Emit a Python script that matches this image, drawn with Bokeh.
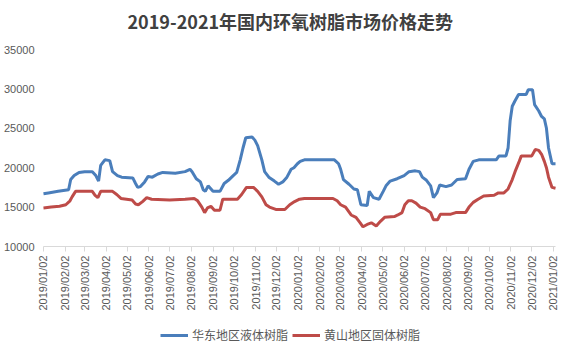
import pandas as pd
from math import pi
from bokeh.plotting import figure
from bokeh.models import (Range1d, FixedTicker, DatetimeTickFormatter, Legend, LegendItem,
                          ColumnDataSource, Title)
from bokeh.embed import file_html
from bokeh.resources import INLINE

title_text = "2019-2021年国内环氧树脂市场价格走势"
series_names = ["华东地区液体树脂", "黄山地区固体树脂"]

blue_dates = [
    "2019-01-02", "2019-01-09", "2019-01-23", "2019-02-07", "2019-02-10", "2019-02-15",
    "2019-02-22", "2019-03-02", "2019-03-13", "2019-03-18", "2019-03-22", "2019-03-25",
    "2019-03-31", "2019-04-07", "2019-04-11", "2019-04-18", "2019-04-24", "2019-05-10",
    "2019-05-14", "2019-05-17", "2019-05-21", "2019-05-27", "2019-06-01", "2019-06-07",
    "2019-06-15", "2019-06-22", "2019-07-10", "2019-07-24", "2019-07-31", "2019-08-03",
    "2019-08-09", "2019-08-15", "2019-08-19", "2019-08-22", "2019-08-26", "2019-09-02",
    "2019-09-12", "2019-09-18", "2019-09-24", "2019-10-01", "2019-10-06", "2019-10-11",
    "2019-10-15", "2019-10-19", "2019-10-28", "2019-11-01", "2019-11-05", "2019-11-11",
    "2019-11-15", "2019-11-21", "2019-11-29", "2019-12-05", "2019-12-11", "2019-12-17",
    "2019-12-23", "2019-12-27", "2020-01-01", "2020-01-05", "2020-01-11", "2020-02-23",
    "2020-02-29", "2020-03-03", "2020-03-07", "2020-03-15", "2020-03-22", "2020-03-27",
    "2020-04-01", "2020-04-10", "2020-04-13", "2020-04-19", "2020-04-27", "2020-05-03",
    "2020-05-07", "2020-05-13", "2020-05-23", "2020-06-02", "2020-06-09", "2020-06-18",
    "2020-06-24", "2020-06-28", "2020-07-04", "2020-07-10", "2020-07-14", "2020-07-19",
    "2020-07-23", "2020-08-01", "2020-08-09", "2020-08-17", "2020-08-29", "2020-09-03",
    "2020-09-09", "2020-09-17", "2020-10-12", "2020-10-16", "2020-10-26", "2020-10-29",
    "2020-11-01", "2020-11-04", "2020-11-08", "2020-11-13", "2020-11-24", "2020-11-27",
    "2020-12-03", "2020-12-06", "2020-12-12", "2020-12-16", "2020-12-20", "2020-12-23",
    "2020-12-26", "2020-12-31", "2021-01-05",
]
blue_values = [
    16700, 16800, 17000, 17200, 18500, 19000,
    19400, 19500, 19500, 19000, 18300, 20300,
    21000, 20900, 19500, 19000, 18800, 18700,
    18000, 17500, 17600, 18200, 18900, 18800,
    19200, 19400, 19300, 19500, 19800, 19500,
    18600, 18200, 17200, 17000, 17700, 17000,
    17000, 18000, 18400, 19000, 19400, 21000,
    22500, 23800, 23900, 23500, 22800, 21000,
    19500, 18800, 18300, 17900, 18200, 18800,
    19800, 20000, 20500, 20800, 21000, 21000,
    20500, 19800, 18500, 17900, 17300, 17200,
    15300, 15200, 17000, 16200, 16000, 17000,
    17700, 18300, 18600, 19000, 19500, 19600,
    19500, 18800, 18400, 17700, 16200, 16800,
    17800, 17600, 17800, 18500, 18600, 19800,
    20800, 21000, 21000, 21500, 21500, 22500,
    26000, 27800, 28500, 29300, 29300, 29900,
    29900, 28000, 27200, 26500, 26200, 25000,
    22500, 20500, 20500,
]

red_dates = [
    "2019-01-02", "2019-01-13", "2019-01-25", "2019-02-03", "2019-02-09", "2019-02-12",
    "2019-02-17", "2019-03-13", "2019-03-17", "2019-03-21", "2019-03-25", "2019-04-11",
    "2019-04-17", "2019-04-23", "2019-05-09", "2019-05-14", "2019-05-18", "2019-05-24",
    "2019-05-30", "2019-06-06", "2019-07-02", "2019-07-24", "2019-08-06", "2019-08-11",
    "2019-08-17", "2019-08-21", "2019-08-25", "2019-08-30", "2019-09-04", "2019-09-12",
    "2019-09-16", "2019-10-07", "2019-10-13", "2019-10-20", "2019-10-30", "2019-11-05",
    "2019-11-11", "2019-11-17", "2019-11-22", "2019-12-01", "2019-12-14", "2019-12-21",
    "2019-12-28", "2020-01-04", "2020-01-11", "2020-02-21", "2020-02-27", "2020-03-03",
    "2020-03-10", "2020-03-18", "2020-03-25", "2020-03-31", "2020-04-04", "2020-04-10",
    "2020-04-16", "2020-04-23", "2020-04-29", "2020-05-05", "2020-05-19", "2020-05-24",
    "2020-05-30", "2020-06-03", "2020-06-08", "2020-06-13", "2020-06-19", "2020-06-25",
    "2020-07-02", "2020-07-10", "2020-07-14", "2020-07-20", "2020-07-24", "2020-08-08",
    "2020-08-15", "2020-08-29", "2020-09-03", "2020-09-09", "2020-09-16", "2020-09-24",
    "2020-10-09", "2020-10-15", "2020-10-23", "2020-10-29", "2020-11-04", "2020-11-08",
    "2020-11-14", "2020-11-17", "2020-12-02", "2020-12-07", "2020-12-12", "2020-12-16",
    "2020-12-20", "2020-12-23", "2020-12-26", "2020-12-31", "2021-01-05",
]
red_values = [
    14900, 15000, 15100, 15300, 15800, 16300,
    17000, 17000, 16500, 16200, 17000, 17000,
    16600, 16100, 15900, 15400, 15300, 15700,
    16200, 16000, 15900, 16000, 16100, 15800,
    15000, 14300, 14900, 15100, 14600, 14600,
    16000, 16000, 16600, 17500, 17500, 17000,
    16300, 15300, 15000, 14700, 14700, 15300,
    15700, 16000, 16100, 16100, 15800, 15300,
    15000, 14000, 13700, 13000, 12500, 12800,
    13000, 12600, 13200, 13700, 13800, 14000,
    14300, 15300, 15800, 15800, 15500, 15000,
    14800, 14300, 13400, 13400, 14100, 14100,
    14300, 14300, 15000, 15600, 16000, 16400,
    16500, 16800, 16800, 17300, 18500, 19500,
    20800, 21500, 21500, 22300, 22200, 21700,
    20800, 20000, 18800, 17500, 17400,
]

tick_dates = [
    "2019-01-02", "2019-02-02", "2019-03-02", "2019-04-02", "2019-05-02", "2019-06-02",
    "2019-07-02", "2019-08-02", "2019-09-02", "2019-10-02", "2019-11-02", "2019-12-02",
    "2020-01-02", "2020-02-02", "2020-03-02", "2020-04-02", "2020-05-02", "2020-06-02",
    "2020-07-02", "2020-08-02", "2020-09-02", "2020-10-02", "2020-11-02", "2020-12-02",
    "2021-01-02",
]
y_ticks = [10000, 15000, 20000, 25000, 30000, 35000]
axis_start, axis_end = "2019-01-02", "2021-01-05"

BLUE = "#4a7ebb"
RED = "#be4b48"
GRAY = "#595959"
AXIS_GRAY = "#d9d9d9"

def ms(s):
    return pd.Timestamp(s).value / 1e6

# layout in pixels
AXIS_PX = 513          # plotting width between first date and axis end
PAD_L, PAD_R = 7, 8    # extra frame room so end tick labels are not clipped
ms_per_px = (ms(axis_end) - ms(axis_start)) / AXIS_PX
x_lo = ms(axis_start) - PAD_L * ms_per_px
x_hi = ms(axis_end) + PAD_R * ms_per_px

Y_TOP, Y_AXIS = 35000, 10000
px_per_unit = 197 / (Y_TOP - Y_AXIS)
y_bottom = Y_AXIS - 100 / px_per_unit

p = figure(width=563, height=346, x_axis_type="datetime",
           output_backend="svg", toolbar_location=None, title=None,
           x_range=Range1d(x_lo, x_hi),
           y_range=Range1d(y_bottom, Y_TOP),
           min_border_left=42 - PAD_L, min_border_right=0, min_border_top=49, min_border_bottom=0)

spacer = Title(text=" ", text_font_size="1px", standoff=8)
main_title = Title(text=title_text, align="left", offset=84 + PAD_L,
                   text_font="Noto Sans CJK SC", text_font_size="18px",
                   text_font_style="bold", text_color="#404040")
p.add_layout(spacer, "above")
p.add_layout(main_title, "above")

p.outline_line_color = None
p.xgrid.grid_line_color = None
p.ygrid.grid_line_color = None

# x axis baseline (from first date to axis end at y = 10000)
p.segment(x0=[pd.Timestamp(axis_start)], y0=[Y_AXIS], x1=[pd.Timestamp(axis_end)], y1=[Y_AXIS],
          line_color=AXIS_GRAY, line_width=1)

src_b = ColumnDataSource(dict(x=pd.to_datetime(blue_dates), y=blue_values))
src_r = ColumnDataSource(dict(x=pd.to_datetime(red_dates), y=red_values))
rb = p.line("x", "y", source=src_b, line_color=BLUE, line_width=3)
rr = p.line("x", "y", source=src_r, line_color=RED, line_width=3)

xa = p.xaxis[0]
xa.fixed_location = Y_AXIS
xa.ticker = FixedTicker(ticks=[ms(d) for d in tick_dates])
xa.formatter = DatetimeTickFormatter(
    milliseconds="%Y/%m/%d", seconds="%Y/%m/%d", minsec="%Y/%m/%d", minutes="%Y/%m/%d",
    hourmin="%Y/%m/%d", hours="%Y/%m/%d", days="%Y/%m/%d", months="%Y/%m/%d", years="%Y/%m/%d")
xa.major_label_orientation = pi / 2
xa.major_label_text_font = "Liberation Sans"
xa.major_label_text_font_size = "11px"
xa.major_label_text_color = GRAY
xa.major_label_standoff = 4
xa.axis_line_color = None
xa.major_tick_line_color = AXIS_GRAY
xa.major_tick_out = 5
xa.major_tick_in = 0
xa.minor_tick_line_color = None

ya = p.yaxis[0]
ya.ticker = FixedTicker(ticks=y_ticks)
ya.major_label_text_font = "Liberation Sans"
ya.major_label_text_font_size = "11px"
ya.major_label_text_color = GRAY
ya.major_label_standoff = 9 - PAD_L
ya.major_tick_out = 0
ya.major_tick_in = 0
ya.axis_line_color = None
ya.major_tick_line_color = None
ya.minor_tick_line_color = None

legend = Legend(items=[LegendItem(label=series_names[0], renderers=[rb]),
                       LegendItem(label=series_names[1], renderers=[rr])],
                orientation="horizontal", location=(117 + PAD_L, 3))
legend.label_text_font = "Noto Sans CJK SC"
legend.label_text_font_size = "12px"
legend.label_text_color = GRAY
legend.glyph_width = 28
legend.glyph_height = 16
legend.label_standoff = 4
legend.spacing = 4
legend.padding = 0
legend.margin = 0
legend.border_line_color = None
legend.background_fill_alpha = 0
p.add_layout(legend, "center")

open("out.html", "w").write(file_html(p, INLINE))
